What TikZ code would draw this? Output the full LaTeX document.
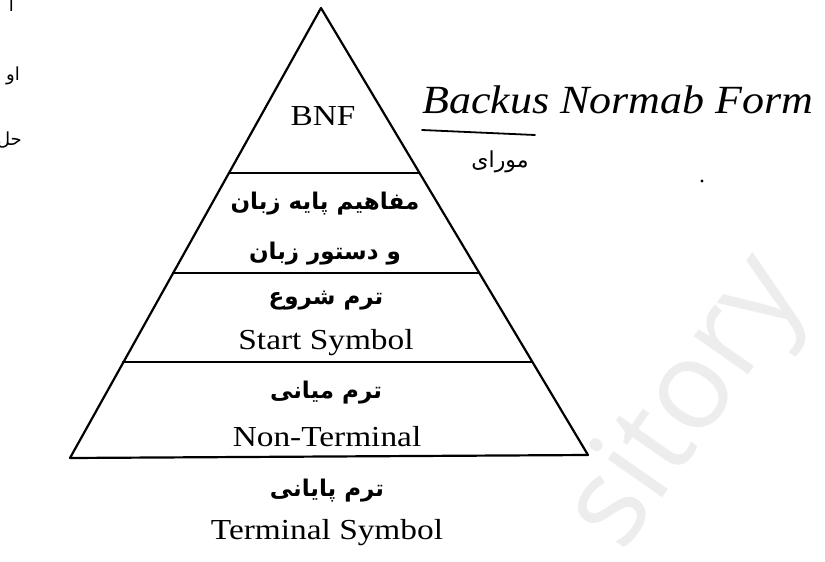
\documentclass[tikz,border=0pt]{standalone}
\usepackage{fontspec}
\setmainfont{Liberation Serif}[FakeStretch=1.15]
\newfontfamily\fa[Script=Arabic]{DejaVu Sans}
\newfontfamily\hand{Liberation Serif}[FakeStretch=1.1]
\newfontfamily\wm{Open Sans}
\TeXXeTstate=1
\begin{document}
\begin{tikzpicture}[x=1pt,y=-1pt,
  edge/.style={line width=2.2pt, line cap=round, line join=round},
  en/.style={anchor=base, inner sep=0pt, font=\fontsize{29}{34}\selectfont},
  fan/.style={anchor=base, inner sep=0pt, font=\fa\bfseries\fontsize{23}{26}\selectfont},
  handtxt/.style={anchor=base west, inner sep=0pt, font=\hand\itshape\fontsize{40}{44}\selectfont},
  margin/.style={anchor=base east, inner sep=0pt, font=\fa\fontsize{18}{20}\selectfont},
  wmark/.style={text=black!7, font=\wm\fontsize{124}{124}\selectfont, rotate=55, inner sep=0pt}]
\useasboundingbox (0,0) rectangle (825,562);
\clip (0,0) rectangle (825,562);
\fill[white] (0,0) rectangle (825,562);
% watermark
\node[wmark] (wm) at (690,405) {sitory};
% pyramid
\coordinate (A) at (321,8);
\coordinate (L1) at (229,173); \coordinate (R1) at (419,173);
\coordinate (L2) at (173,273); \coordinate (R2) at (479,273);
\coordinate (L3) at (123,362); \coordinate (R3) at (532,362);
\coordinate (L4) at (70,458);  \coordinate (R4) at (588,455);
\draw[edge] (L4) -- (A) -- (R4) -- cycle;
\draw[edge] (L1) -- (R1);
\draw[edge] (L2) -- (R2);
\draw[edge] (L3) -- (R3);
% texts
\node[en] (bnf) at (323,125) {BNF};
\node[fan] (p1) at (325,209) {\beginR مفاهیم پایه زبان\endR};
\node[fan] (p2) at (325,259) {\beginR و دستور زبان\endR};
\node[fan] (p3) at (326,304) {\beginR ترم شروع\endR};
\node[en] (s) at (326,349) {Start Symbol};
\node[fan] (p4) at (326,398) {\beginR ترم میانی\endR};
\node[en] (n) at (327,446) {Non-Terminal};
\node[fan] (p5) at (327,496) {\beginR ترم پایانی\endR};
\node[en] (t) at (327,539) {Terminal Symbol};
% handwritten note
\node[handtxt] (hw) at (422,113) {Backus Normab Form};
\coordinate (u1) at (422,130); \coordinate (u2) at (535,135);
\draw[line width=1.8pt, line cap=round] (u1) -- (u2);
\node[anchor=base, inner sep=0pt, font=\fa\fontsize{22}{24}\selectfont] (hw2) at (500,167) {\beginR مورای\endR};
\fill (702,181) circle (1.6);
% margin fragments
\node[margin] (m1) at (14,12) {\beginR ا\endR};
\node[margin] (m2) at (20,80) {\beginR او\endR};
\node[margin] (m3) at (22,145) {\beginR حل\endR};
\end{tikzpicture}
\end{document}
